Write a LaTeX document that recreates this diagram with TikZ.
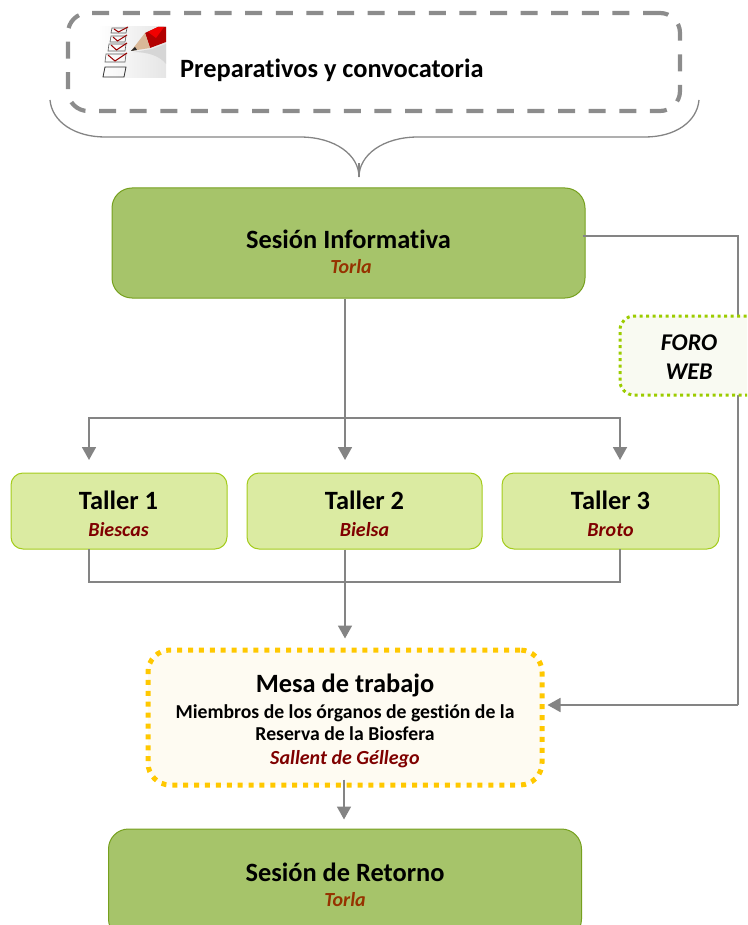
\documentclass[tikz,border=0pt]{standalone}
\usepackage{fontspec}
\setmainfont[Ligatures=NoCommon]{Carlito}
\usetikzlibrary{arrows.meta,calc}
\definecolor{arrowgray}{HTML}{848484}
\definecolor{dashgray}{HTML}{8C8C8C}
\definecolor{darkfill}{HTML}{A6C46A}
\definecolor{darkedge}{HTML}{76A01E}
\definecolor{lightfill}{HTML}{DBEBA2}
\definecolor{lightedge}{HTML}{A4CC1C}
\definecolor{forofill}{HTML}{F9FAF2}
\definecolor{foroedge}{HTML}{9CCC00}
\definecolor{mesafill}{HTML}{FEFBF2}
\definecolor{mesaedge}{HTML}{FFC800}
\definecolor{placeA}{HTML}{963200}
\definecolor{placeB}{HTML}{7F0000}
\tikzset{
  x=1pt,y=-1pt,
  conn/.style={draw=arrowgray,line width=1.8pt},
  arr/.style={conn,-{Triangle[length=13pt,width=14pt]}},
  bigbox/.style={draw=darkedge,fill=darkfill,line width=1pt,rounded corners=20pt,inner sep=0pt},
  tallerbox/.style={draw=lightedge,fill=lightfill,line width=1pt,rounded corners=12pt,inner sep=0pt},
  title/.style={font=\fontsize{26.4}{30}\selectfont\bfseries,text=black,inner sep=0pt},
  place/.style={font=\fontsize{20}{24}\selectfont\bfseries\itshape,inner sep=0pt},
  sub/.style={font=\fontsize{19.7}{22.5}\selectfont\bfseries,text=black,inner sep=0pt,align=center},
}
\newcommand{\tickbox}[4]{%
  \draw[black!65,line width=.6pt] (#1,#2) -- ++(#3,0) -- ++(1,-#4) -- ++(-#3,0) -- cycle;
  \draw[red!60!black,line width=1pt] (#1+3,#2-#4+1) -- (#1+#3/2,#2-1) -- (#1+#3+2,#2-#4-1);
}
\begin{document}
\begin{tikzpicture}
\useasboundingbox (0,0) rectangle (747,925);
\clip (0,0) rectangle (747,925);
% boxes
\node[bigbox,minimum width=473pt,minimum height=110pt] (info) at (348.5,243) {};
\node[tallerbox,minimum width=216pt,minimum height=76pt] (t1) at (119,511) {};
\node[tallerbox,minimum width=235pt,minimum height=76pt] (t2) at (364.5,511) {};
\node[tallerbox,minimum width=217pt,minimum height=76pt] (t3) at (610.5,511) {};
\node[bigbox,minimum width=473pt,minimum height=110pt] (ret) at (345,884) {};
% helper coordinates
\coordinate (hub) at (345,418);
\coordinate (a1) at (89,460);
\coordinate (a2) at (345,460);
\coordinate (a3) at (620,460);
\coordinate (b1) at (89,549);
\coordinate (b3) at (620,549);
\coordinate (join) at (345,582);
\coordinate (corner1) at (738,236);
\coordinate (corner2) at (738,705);
% connectors
\draw[conn] (info.south -| hub) -- (hub);
\draw[arr] (hub) -| (a1);
\draw[arr] (hub) -- (a2);
\draw[arr] (hub) -| (a3);
\draw[conn] (b1) |- (b3 |- join) -- (b3);
\draw[conn] (t2.south -| join) -- (join);
% mesa
\node[draw=mesaedge,fill=mesafill,line width=5pt,dash pattern=on 5pt off 5.9pt,rounded corners=22pt,minimum width=394pt,minimum height=135pt,inner sep=0pt] (mesa) at (345,717.5) {};
\draw[arr] (join) -- ($(mesa.north)+(0,-9)$);
\draw[conn] ($(info.east |- corner1)+(-3,0)$) -- (corner1) -- (corner2);
\draw[arr] (corner2) -- ($(mesa.east |- corner2)+(3,0)$);
\draw[arr] ($(mesa.south)+(-1,-8)$) -- ($(mesa.south)+(-1,32)$);
% foro
\node[draw=foroedge,fill=forofill,line width=3pt,dash pattern=on 3pt off 3.5pt,rounded corners=14pt,minimum width=160pt,minimum height=79pt,inner sep=0pt] (foro) at (700,355.5) {};
\node[font=\fontsize{24}{29}\selectfont\bfseries\itshape,align=center,inner sep=0pt] (forot) at (689,357) {FORO\\WEB};
% top
\node[draw=dashgray,line width=4.2pt,dash pattern=on 17pt off 13.6pt,rounded corners=20pt,minimum width=612pt,minimum height=98pt,inner sep=0pt] (prep) at (374,62) {};
\coordinate (bl) at (50,100);
\coordinate (br) at (699,100);
\coordinate (tip) at (359,177);
\draw[draw=arrowgray,line width=1.3pt] (bl) .. controls (52,122) and (75,137) .. (105,137) -- (300,137) .. controls (335,137) and (359,155) .. (tip) .. controls (359,155) and (383,137) .. (418,137) -- (645,137) .. controls (675,137) and (697,122) .. (br);
\draw[draw=arrowgray,line width=1.3pt] (tip) -- ++(0,-14);
% icon
\begin{scope}
\clip (98,27) rectangle (166,78);
\shade[left color=white,right color=black!10] (98,27) rectangle (166,78);
\fill[black!16] (133,52) .. controls (148,52) and (160,56) .. (166,64) -- (166,44) -- (152,49) -- cycle;
\tickbox{111}{33}{15}{5}
\tickbox{110}{42}{15}{6}
\tickbox{108}{51}{17}{7}
\tickbox{105}{62}{20}{8}
\draw[black!80,line width=.8pt] (103,77) -- (124,77) -- (126,67) -- (105,67) -- cycle;
\fill[red!70!black] (145,33) -- (158,27) -- (166,27) -- (166,42) -- (150,48) -- cycle;
\fill[red!95!black] (148,32) -- (158,27) -- (164,27) -- (156,38) -- cycle;
\fill[orange!30!white!85!black] (145,33) -- (150,48) -- (131,51) -- cycle;
\fill[black!85] (131,51) -- (135,47) -- (137,50) -- cycle;
\end{scope}
% text
\node[font=\fontsize{26.4}{30}\selectfont\bfseries,inner sep=0pt,anchor=west] (preptext) at (180,70) {Preparativos y convocatoria};
\node[title] (infot) at (348.5,239) {Sesión Informativa};
\node[place,text=placeA] (infop) at (351,267) {Torla};
\node[title] (t1t) at (118.5,500.5) {Taller 1};
\node[place,text=placeB] (t1p) at (118.5,530) {Biescas};
\node[title] (t2t) at (364.5,500.5) {Taller 2};
\node[place,text=placeB] (t2p) at (364.5,530) {Bielsa};
\node[title] (t3t) at (610.5,500.5) {Taller 3};
\node[place,text=placeB] (t3p) at (610.5,530) {Broto};
\node[title] (mesat) at (345,685) {Mesa de trabajo};
\node[sub] (mesas) at (345,722.5) {Miembros de los órganos de gestión de la\\Reserva de la Biosfera};
\node[place,text=placeB] (mesap) at (345,759.5) {Sallent de Géllego};
\node[title] (rett) at (345,872) {Sesión de Retorno};
\node[place,text=placeA] (retp) at (345,900) {Torla};
\end{tikzpicture}
\end{document}
